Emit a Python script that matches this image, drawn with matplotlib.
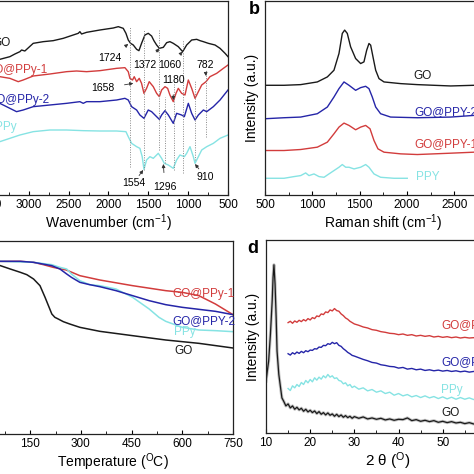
import matplotlib
matplotlib.use("Agg")
import matplotlib.pyplot as plt

plt.rcParams['font.family'] = ['Liberation Sans', 'DejaVu Sans']
plt.rcParams['mathtext.fontset'] = 'custom'
plt.rcParams['mathtext.rm'] = 'Liberation Sans'
plt.rcParams['mathtext.it'] = 'Liberation Sans:italic'

BLACK = '#1a1a1a'
RED = '#d23c3c'
BLUE = '#2525a8'
CYAN = '#86e3e3'

# ---- (a) FTIR ----
ftir_go_x = [4000, 3700, 3500, 3364, 3238, 3175, 3112, 3091, 3050, 2945, 2819, 2694, 2568, 2443, 2380,
             2359, 2338, 2275, 2108, 1940, 1877, 1815, 1781, 1752, 1723, 1689, 1647, 1618, 1585, 1543,
             1501, 1459, 1430, 1396, 1362, 1312, 1270, 1229, 1187, 1124, 1069, 1019, 956, 893, 851,
             809, 747, 663, 600, 537, 500]
ftir_go_y = [380, 400, 412, 422, 430, 438, 445, 450, 447, 470, 475, 478, 485, 495, 500,
             505, 498, 503, 510, 516, 520, 515, 500, 480, 470, 465, 452, 448, 470, 495,
             500, 492, 478, 465, 455, 458, 472, 475, 470, 460, 445, 465, 480, 482, 478,
             475, 470, 465, 455, 440, 430]

ftir_p1_x = [4000, 3600, 3364, 3238, 3133, 3071, 2945, 2736, 2526, 2401, 2275, 2108, 1898, 1794, 1752,
             1731, 1698, 1677, 1647, 1614, 1585, 1555, 1522, 1489, 1438, 1396, 1362, 1333, 1291, 1258,
             1229, 1187, 1153, 1124, 1082, 1040, 998, 956, 914, 872, 830, 776, 726, 642, 558, 500]
ftir_p1_y = [380, 372, 370, 365, 355, 360, 372, 378, 385, 387, 385, 388, 395, 397, 385,
             365, 360, 370, 355, 365, 350, 320, 335, 355, 340, 320, 310, 330, 340, 335,
             315, 295, 320, 335, 320, 315, 360, 335, 305, 325, 345, 355, 370, 380, 395, 405]

ftir_p2_x = [4000, 3600, 3364, 3238, 3154, 3071, 2945, 2736, 2526, 2359, 2317, 2275, 2108, 1898, 1794,
             1752, 1710, 1647, 1606, 1555, 1501, 1459, 1396, 1362, 1333, 1291, 1249, 1187, 1145, 1082,
             1048, 998, 956, 914, 872, 809, 767, 684, 600, 500]
ftir_p2_y = [300, 293, 290, 275, 265, 270, 280, 285, 290, 295, 290, 295, 295, 300, 305,
             300, 280, 270, 255, 245, 270, 265, 250, 242, 255, 268, 255, 230, 260, 255,
             250, 290, 260, 240, 255, 270, 265, 280, 300, 330]

ftir_ppy_x = [4000, 3600, 3364, 3238, 3112, 2945, 2736, 2526, 2317, 2108, 1898, 1781, 1752, 1710, 1647,
              1606, 1577, 1555, 1522, 1480, 1438, 1375, 1333, 1300, 1249, 1187, 1145, 1103, 1048, 1019,
              977, 935, 914, 872, 830, 767, 684, 600, 500]
ftir_ppy_y = [150, 165, 175, 185, 195, 205, 210, 210, 208, 207, 207, 205, 190, 170, 160,
              155, 130, 92, 120, 130, 125, 140, 125, 110, 105, 95, 120, 135, 130, 140,
              160, 130, 110, 130, 150, 160, 170, 185, 195]

ftir_marks = [1724, 1554, 1372, 1296, 1180, 1060, 910, 782]
ftir_mark_lo = [100, 90, 150, 110, 90, 80, 120, 190]
ftir_mark_hi = [520, 510, 510, 310, 360, 480, 360, 390]

# label, text (x, y), arrow tip (x, y)
ftir_peaks = [
    ('1724', 1982, 425, 1752, 468),
    ('1372', 1543, 405, 1362, 455),
    ('1060', 1229, 405, 1069, 445),
    ('782', 789, 405, 776, 372),
    ('1180', 1187, 360, 1187, 300),
    ('1658', 2066, 335, 1689, 350),
    ('1554', 1689, 50, 1564, 90),
    ('1296', 1291, 38, 1312, 108),
    ('910', 789, 70, 914, 108),
]

# ---- (b) Raman ----
raman_go_x = [500, 701, 877, 1053, 1159, 1229, 1282, 1317, 1342, 1370, 1405, 1458, 1511, 1546, 1575,
              1599, 1617, 1645, 1670, 1705, 1758, 1934, 2110, 2286, 2462, 2709, 3000]
raman_go_y = [345, 345, 347, 355, 370, 390, 440, 500, 510, 500, 460, 425, 410, 415, 450,
              470, 465, 425, 390, 365, 355, 350, 347, 345, 343, 345, 345]

raman_p2_x = [500, 701, 877, 1053, 1159, 1229, 1282, 1335, 1388, 1458, 1511, 1564, 1599, 1634, 1670,
              1722, 1828, 2110, 2462, 2709, 3000]
raman_p2_y = [245, 248, 250, 260, 280, 310, 335, 355, 345, 330, 338, 342, 335, 310, 280,
              260, 250, 248, 250, 255, 257]

raman_p1_x = [500, 701, 877, 1053, 1159, 1229, 1282, 1335, 1388, 1458, 1511, 1564, 1610, 1652, 1694,
              1758, 1934, 2110, 2462, 2709, 3000]
raman_p1_y = [150, 150, 153, 160, 175, 200, 220, 232, 225, 212, 220, 225, 215, 180, 155,
              145, 140, 138, 142, 145, 147]

raman_ppy_x = [500, 701, 806, 877, 930, 965, 1018, 1071, 1124, 1176, 1229, 1282, 1317, 1353, 1388,
               1441, 1511, 1564, 1599, 1652, 1722, 1863, 2004]
raman_ppy_y = [67, 67, 72, 75, 83, 75, 80, 72, 70, 80, 90, 100, 108, 100, 100,
               95, 100, 108, 100, 80, 70, 67, 67]

# ---- (c) TGA ----
tga_go_t = [25, 62, 91, 121, 140, 160, 179, 194, 204, 214, 223, 233, 248, 267, 297, 356, 453, 551, 649, 750]
tga_go_w = [515, 505, 495, 485, 478, 465, 445, 410, 385, 360, 350, 345, 337, 330, 320, 308, 295, 282, 272, 258]

tga_p1_t = [25, 62, 121, 160, 189, 218, 257, 297, 356, 453, 551, 600, 649, 698, 750]
tga_p1_w = [520, 518, 518, 515, 508, 500, 492, 475, 462, 445, 430, 425, 415, 390, 358]

tga_p2_t = [25, 62, 121, 160, 214, 238, 258, 272, 297, 326, 356, 404, 453, 502, 551, 600, 649, 698, 750]
tga_p2_w = [520, 518, 518, 515, 505, 495, 480, 470, 455, 448, 442, 430, 415, 400, 388, 380, 374, 368, 358]

tga_ppy_t = [25, 62, 160, 214, 238, 258, 272, 297, 326, 356, 404, 453, 502, 531, 551, 600, 649, 698, 750]
tga_ppy_w = [520, 518, 515, 508, 500, 495, 480, 460, 448, 445, 435, 410, 375, 350, 338, 320, 312, 310, 307]

# ---- (d) XRD ----
xrd_go_x = [10, 10.2, 10.6, 11.0, 11.4, 11.6, 11.8, 12.05, 12.3, 12.5, 12.9, 13.3, 13.6, 14.0, 14.5,
            15, 15.5, 16, 16.5, 17, 17.5, 18, 18.5, 19, 19.5, 20, 20.5, 21, 21.5, 22, 22.5, 23, 23.5,
            24, 24.5, 25, 25.5, 26, 26.5, 27, 27.5, 28, 28.5, 29, 29.5, 30,
            31, 32, 33, 34, 35, 36, 37, 38, 39, 40, 41, 42, 43, 44, 45, 46, 47, 48, 49, 50,
            51, 52, 53, 54, 55, 56, 57, 58, 60, 62, 65, 70]
xrd_go_y = [160, 180, 220, 300, 400, 470, 508, 450, 350, 250, 180, 140, 110, 100, 86,
            92, 80, 86, 76, 82, 74, 79, 70, 76, 68, 73, 66, 71, 63, 69, 61, 66, 59,
            65, 58, 62, 55, 61, 54, 59, 52, 57, 51, 55, 49, 54,
            49, 53, 47, 50, 46, 49, 44, 47, 43, 46, 45, 50, 42, 45, 40, 43, 39, 42, 37, 40,
            36, 39, 35, 37, 33, 36, 32, 34, 31, 30, 28, 27]

xrd_x = [15, 15.5, 16, 16.5, 17, 17.5, 18, 18.5, 19, 19.5, 20, 20.5, 21, 21.5, 22, 22.5, 23, 23.5,
         24, 24.5, 25, 25.5, 26, 26.5, 27, 27.5, 28, 28.5, 29, 29.5, 30,
         31, 32, 33, 34, 35, 36, 37, 38, 39, 40, 41, 42, 43, 44, 45, 46, 47, 48, 49, 50,
         51, 52, 53, 54, 55, 56, 57, 58, 60, 65, 70]
xrd_p1_y = [335, 339, 333, 340, 336, 342, 338, 344, 340, 347, 343, 350, 347, 355, 353, 361, 359, 367,
            365, 373, 370, 377, 371, 369, 361, 356, 349, 345, 339, 335, 331,
            327, 322, 319, 314, 312, 308, 306, 303, 302, 299, 301, 297, 299, 295, 297, 294, 296, 292, 294, 291,
            293, 290, 292, 289, 291, 289, 290, 288, 289, 288, 287]
xrd_p2_y = [242, 238, 245, 241, 247, 243, 249, 245, 251, 248, 253, 252, 257, 256, 262, 261, 267, 266,
            272, 270, 276, 272, 275, 267, 264, 257, 252, 246, 242, 237, 235,
            230, 225, 221, 216, 214, 209, 207, 204, 203, 199, 201, 196, 198, 194, 196, 192, 194, 191, 193, 190,
            192, 189, 191, 188, 190, 187, 189, 187, 187, 186, 185]
xrd_ppy_y = [138, 132, 146, 140, 150, 144, 156, 150, 162, 155, 165, 158, 170, 163, 172, 166, 176, 170,
             180, 172, 176, 168, 170, 162, 160, 152, 155, 146, 150, 141, 145,
             136, 140, 131, 135, 127, 131, 123, 127, 118, 123, 116, 120, 113, 117, 111, 116, 110, 114, 108, 113,
             107, 112, 106, 111, 106, 110, 105, 109, 107, 106, 105]

W = 474.0


def box(l, t, r, b):
    return [l / W, 1 - b / W, (r - l) / W, (b - t) / W]


def style(ax):
    ax.tick_params(axis='x', direction='in', length=3, width=0.8, labelsize=8.5, pad=3)
    ax.tick_params(axis='x', which='minor', direction='in', length=2, width=0.6)
    ax.set_yticks([])
    for s in ax.spines.values():
        s.set_linewidth(0.9)
        s.set_color('#222222')


fig = plt.figure(figsize=(4.74, 4.74), dpi=100)

# (a)
ax = fig.add_axes(box(-11, 1, 228, 195))
ax.plot(ftir_go_x, ftir_go_y, color=BLACK, lw=1.0)
ax.plot(ftir_p1_x, ftir_p1_y, color=RED, lw=1.0)
ax.plot(ftir_p2_x, ftir_p2_y, color=BLUE, lw=1.0)
ax.plot(ftir_ppy_x, ftir_ppy_y, color=CYAN, lw=1.0)
ax.vlines(ftir_marks, ftir_mark_lo, ftir_mark_hi, colors='#888888', linestyles=(0, (1, 1.5)), lw=0.7)
for lab, tx, ty, px, py in ftir_peaks:
    ax.annotate(lab, xy=(px, py), xytext=(tx, ty), fontsize=7.5, ha='center', va='center',
                arrowprops=dict(arrowstyle='-|>', color='#333333', lw=0.6, mutation_scale=5,
                                shrinkA=5, shrinkB=0))
ax.text(3225, 470, 'GO', color=BLACK, fontsize=8.5, ha='right', va='center')
ax.text(2761, 390, 'GO@PPy-1', color=RED, fontsize=8.5, ha='right', va='center')
ax.text(2736, 300, 'GO@PPy-2', color=BLUE, fontsize=8.5, ha='right', va='center')
ax.text(3150, 220, 'PPy', color=CYAN, fontsize=8.5, ha='right', va='center')
ax.set_xlim(3500, 500)
ax.set_ylim(15, 597)
ax.set_xticks([3500, 3000, 2500, 2000, 1500, 1000, 500])
ax.set_xticks(range(750, 3500, 500), minor=True)
ax.set_xlabel('Wavenumber (cm$^{-1}$)', fontsize=10, labelpad=1)
style(ax)

# (b)
ax = fig.add_axes(box(265, 1, 501.5, 195))
ax.plot(raman_go_x, raman_go_y, color=BLACK, lw=1.0)
ax.plot(raman_p2_x, raman_p2_y, color=BLUE, lw=1.0)
ax.plot(raman_p1_x, raman_p1_y, color=RED, lw=1.0)
ax.plot(raman_ppy_x, raman_ppy_y, color=CYAN, lw=1.0)
ax.text(2170, 372, 'GO', color=BLACK, fontsize=8.5, ha='center', va='center')
ax.text(2075, 265, 'GO@PPY-2', color=BLUE, fontsize=8.5, ha='left', va='center')
ax.text(2075, 168, 'GO@PPY-1', color=RED, fontsize=8.5, ha='left', va='center')
ax.text(2092, 70, 'PPY', color=CYAN, fontsize=8.5, ha='left', va='center')
ax.set_xlim(500, 3000)
ax.set_ylim(17, 597)
ax.set_xticks([500, 1000, 1500, 2000, 2500, 3000])
ax.set_xticks(range(750, 3000, 500), minor=True)
ax.set_xlabel('Raman shift (cm$^{-1}$)', fontsize=10, labelpad=1)
ax.set_ylabel('Intensity (a.u.)', fontsize=10, labelpad=4)
style(ax)
fig.text(254 / W, 1 - 9 / W, 'b', fontsize=13, fontweight='bold', ha='center', va='center')

# (c)
ax = fig.add_axes(box(-7, 241, 233, 434))
ax.plot(tga_go_t, tga_go_w, color=BLACK, lw=1.1)
ax.plot(tga_p1_t, tga_p1_w, color=RED, lw=1.1)
ax.plot(tga_ppy_t, tga_ppy_w, color=CYAN, lw=1.1)
ax.plot(tga_p2_t, tga_p2_w, color=BLUE, lw=1.1)
ax.text(571, 420, 'GO@PPy-1', color=RED, fontsize=8.5, ha='left', va='center')
ax.text(571, 338, 'GO@PPY-2', color=BLUE, fontsize=8.5, ha='left', va='center')
ax.text(576, 305, 'PPy', color=CYAN, fontsize=8.5, ha='left', va='center')
ax.text(576, 250, 'GO', color=BLACK, fontsize=8.5, ha='left', va='center')
ax.set_xlim(40, 750)
ax.set_ylim(0, 579)
ax.set_xticks([150, 300, 450, 600, 750])
ax.set_xticks([75, 225, 375, 525, 675], minor=True)
ax.set_xlabel('Temperature ($^{\\mathrm{O}}$C)', fontsize=10, labelpad=1)
style(ax)

# (d)
ax = fig.add_axes(box(266, 240, 509, 433))
ax.plot(xrd_go_x, xrd_go_y, color='#9a9a9a', lw=2.2, alpha=0.6)
ax.plot(xrd_go_x, xrd_go_y, color=BLACK, lw=0.9)
ax.plot(xrd_x, xrd_p1_y, color=RED, lw=1.0)
ax.plot(xrd_x, xrd_p2_y, color=BLUE, lw=1.0)
ax.plot(xrd_x, xrd_ppy_y, color=CYAN, lw=1.0)
ax.text(49.6, 325, 'GO@PPy-1', color=RED, fontsize=8.5, ha='left', va='center')
ax.text(49.6, 215, 'GO@PPy-2', color=BLUE, fontsize=8.5, ha='left', va='center')
ax.text(49.6, 135, 'PPy', color=CYAN, fontsize=8.5, ha='left', va='center')
ax.text(49.6, 65, 'GO', color=BLACK, fontsize=8.5, ha='left', va='center')
ax.set_xlim(10, 65)
ax.set_ylim(5, 582)
ax.set_xticks([10, 20, 30, 40, 50, 60])
ax.set_xticks([15, 25, 35, 45, 55], minor=True)
ax.set_xlabel('2 \u03b8 ($^{\\mathrm{O}}$)', fontsize=11, labelpad=1)
ax.set_ylabel('Intensity (a.u.)', fontsize=10, labelpad=4)
style(ax)
fig.text(253 / W, 1 - 248 / W, 'd', fontsize=13, fontweight='bold', ha='center', va='center')

fig.savefig('out.png', dpi=100)
